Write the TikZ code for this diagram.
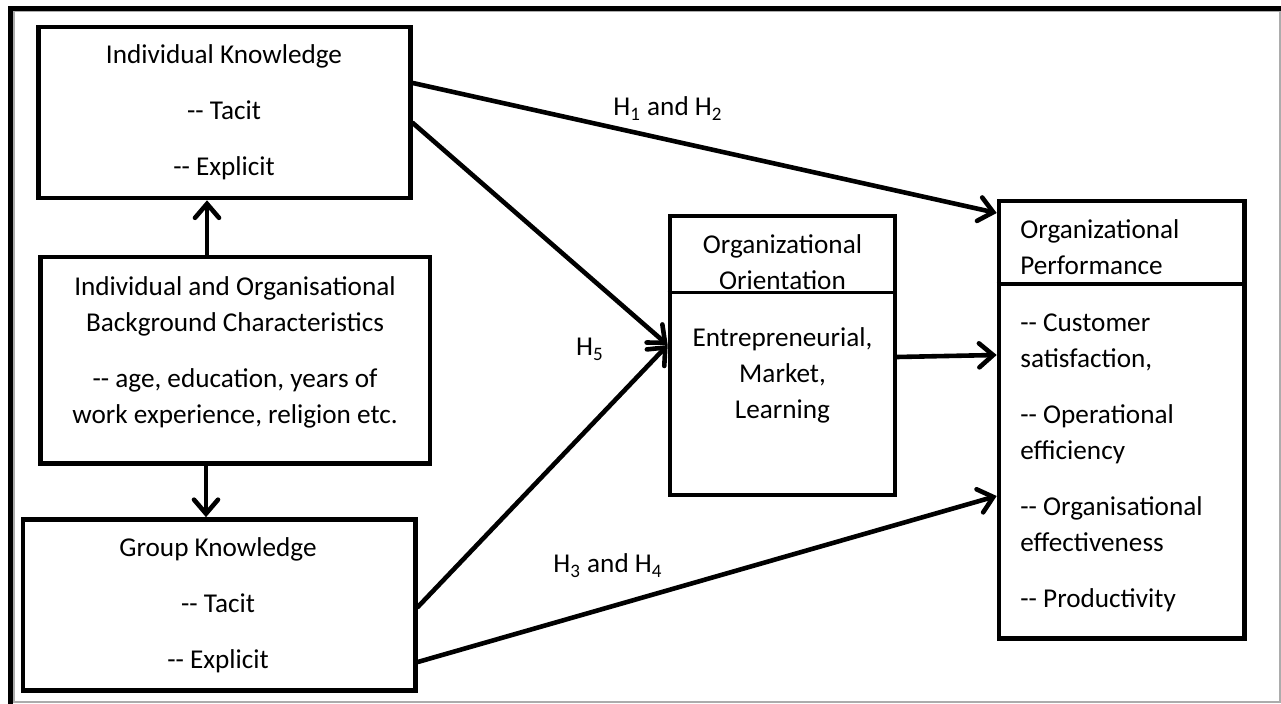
\documentclass[tikz,border=0pt]{standalone}
\usepackage{fontspec}
\setmainfont{Carlito}[Ligatures=TeXOff]
\usetikzlibrary{arrows.meta}

\begin{document}
\begin{tikzpicture}[x=0.5pt,y=-0.5pt,
  box/.style={draw, rectangle, line width=2.3pt, inner sep=0pt},
  body/.style={inner sep=0pt, font=\fontsize{13.6}{18}\selectfont},
  conn/.style={line width=2.3pt, line cap=round,
    -{Straight Barb[length=7pt,width=12pt,line cap=round]}},
  divider/.style={line width=1.8pt}]

\useasboundingbox (0,0) rectangle (1281,704);

% page frame
\draw[gray!65, line width=0.8pt] (14,11) rectangle (1280,702);
\draw[line width=2.5pt] (10.8,704) -- (10.8,8.5) -- (1281,8.5);

% boxes
\node[box, minimum width=185.9pt, minimum height=85.5pt] (ik) at (224.6,112.5) {};
\node[box, minimum width=194.75pt, minimum height=103.25pt] (bg) at (235.25,360.25) {};
\node[box, minimum width=196.25pt, minimum height=85.5pt] (gk) at (219.25,605) {};
\node[box, minimum width=112.5pt, minimum height=139.5pt] (oo) at (782.5,355.5) {};
\node[box, minimum width=122.75pt, minimum height=218.75pt] (op) at (1121.75,419.75) {};

% header dividers
\draw[divider] (oo.west |- 0,292.5) -- (oo.east |- 0,292.5);
\draw[divider] (op.west |- 0,284) -- (op.east |- 0,284);

% box texts
\node[body, align=center, anchor=north] (iktext) at (224,37.8)
  {\strut Individual Knowledge\\[10pt] -- Tacit\\[10pt] -- Explicit};
\node[body, align=center, anchor=north] (bgtext) at (235,269.8)
  {\strut Individual and Organisational\\Background Characteristics\\[10pt]
   -- age, education, years of\\work experience, religion etc.};
\node[body, align=center, anchor=north] (gktext) at (218,530.8)
  {\strut Group Knowledge\\[10pt] -- Tacit\\[10pt] -- Explicit};
\node[body, align=center, anchor=north] (oohead) at (782.5,227.8)
  {\strut Organizational\\Orientation};
\node[body, align=center, anchor=north] (oobody) at (782.5,320.8)
  {\strut Entrepreneurial,\\Market,\\Learning};
\node[body, align=left, anchor=north west] (ophead) at (1020,212.8)
  {\strut Organizational\\Performance};
\node[body, align=left, anchor=north west] (opbody) at (1020,305.8)
  {\strut -- Customer\\satisfaction,\\[10pt]-- Operational\\efficiency\\[10pt]
   -- Organisational\\effectiveness\\[10pt]-- Productivity};

% hypothesis labels
\node[body, anchor=base] (h12) at (668,116) {H\textsubscript{1} and H\textsubscript{2}};
\node[body, anchor=base] (h5) at (590,356) {H\textsubscript{5}};
\node[body, anchor=base] (h34) at (608,573) {H\textsubscript{3} and H\textsubscript{4}};

% connectors
\draw[conn] (207,0 |- bg.north) -- (207,0 |- ik.south);
\draw[conn] (206,0 |- bg.south) -- (206,0 |- gk.north);
\draw[conn] (ik.east |- 0,83) -- (op.west |- 0,213);
\draw[conn] (ik.east |- 0,123) -- (oo.west |- 0,345);
\draw[conn] (gk.east |- 0,607) -- (oo.west |- 0,345);
\draw[conn] (oo.east |- 0,357) -- (op.west |- 0,355);
\draw[conn] (gk.east |- 0,662) -- (op.west |- 0,496);
\end{tikzpicture}
\end{document}
